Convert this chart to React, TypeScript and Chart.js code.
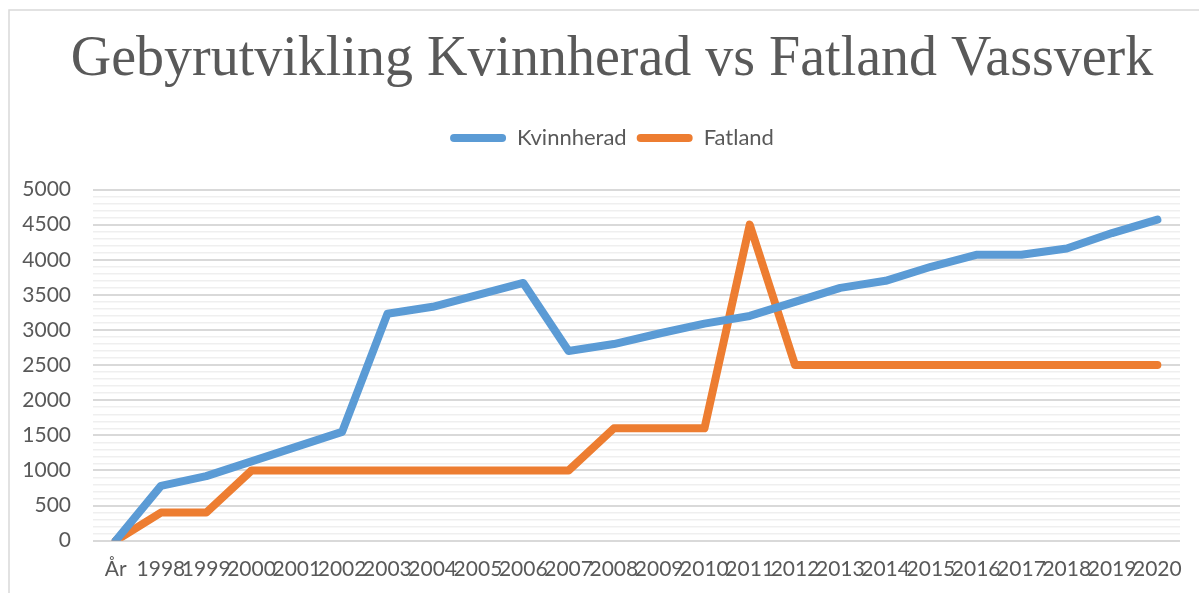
import React, { useEffect, useRef } from "react";
import { Chart, registerables } from "chart.js";

Chart.register(...registerables);

const categories = ["År", "1998", "1999", "2000", "2001", "2002", "2003", "2004", "2005", "2006", "2007", "2008", "2009", "2010", "2011", "2012", "2013", "2014", "2015", "2016", "2017", "2018", "2019", "2020"];
const kvinnherad = [0, 780, 920, 1130, 1340, 1550, 3230, 3330, 3500, 3670, 2700, 2800, 2950, 3090, 3200, 3400, 3600, 3700, 3900, 4070, 4070, 4160, 4380, 4570];
const fatland = [0, 400, 400, 1000, 1000, 1000, 1000, 1000, 1000, 1000, 1000, 1600, 1600, 1600, 4500, 2500, 2500, 2500, 2500, 2500, 2500, 2500, 2500, 2500];
const seriesNames = ["Kvinnherad", "Fatland"];
const seriesColors = ["#5B9BD5", "#ED7D31"];
const titleText = "Gebyrutvikling Kvinnherad vs Fatland Vassverk";
const yMin = 0;
const yMax = 5000;
const yMinorStep = 100;
const yMajorStep = 500;

const textColor = "#595959";

const frameBorder = {
  id: "frameBorder",
  beforeDraw(chart: any) {
    const ctx = chart.ctx;
    ctx.save();
    ctx.strokeStyle = "#d9d9d9";
    ctx.lineWidth = 1.5;
    ctx.strokeRect(9, 10, 1400, 900);
    ctx.restore();
  },
};

const legendSpacer = {
  id: "legendSpacer",
  beforeInit(chart: any) {
    const legend = chart.legend;
    if (!legend) return;
    const origFit = legend.fit;
    legend.fit = function () {
      origFit.call(this);
      this.height += 30.5;
    };
  },
  afterLayout(chart: any) {
    if (chart.titleBlock) chart.titleBlock.left = 44;
    if (chart.legend) chart.legend.left = 44;
  },
};

export default function App() {
  const ref = useRef<HTMLCanvasElement | null>(null);

  useEffect(() => {
    if (!ref.current) return;
    const chart = new Chart(ref.current, {
      type: "line",
      data: {
        labels: categories,
        datasets: [
          {
            label: seriesNames[0],
            data: kvinnherad,
            borderColor: seriesColors[0],
            backgroundColor: seriesColors[0],
            borderWidth: 8,
            pointRadius: 0,
            borderCapStyle: "round",
            borderJoinStyle: "round",
            tension: 0,
          },
          {
            label: seriesNames[1],
            data: fatland,
            borderColor: seriesColors[1],
            backgroundColor: seriesColors[1],
            borderWidth: 8,
            pointRadius: 0,
            borderCapStyle: "round",
            borderJoinStyle: "round",
            tension: 0,
          },
        ],
      },
      options: {
        responsive: false,
        animation: false,
        layout: { padding: { left: 0, right: 19, top: 0, bottom: 0 } },
        plugins: {
          title: {
            display: true,
            text: titleText,
            color: textColor,
            font: { family: "'Liberation Serif', serif", size: 56, weight: "normal" },
            padding: { top: 26.3, bottom: 23.5 },
          },
          legend: {
            display: true,
            position: "top",
            labels: {
              color: textColor,
              font: { family: "Lato", size: 22 },
              boxWidth: 56,
              boxHeight: 8,
              useBorderRadius: true,
              borderRadius: 4,
              padding: 10,
              generateLabels: (c: any) =>
                Chart.defaults.plugins.legend.labels.generateLabels(c).map((l: any, i: number) => ({
                  ...l,
                  lineWidth: 0,
                  fillStyle: seriesColors[i],
                  strokeStyle: seriesColors[i],
                })),
            },
          },
          tooltip: { enabled: false },
        },
        scales: {
          x: {
            offset: true,
            grid: { display: false, drawTicks: false },
            border: { display: false },
            ticks: {
              autoSkip: false,
              maxRotation: 0,
              minRotation: 0,
              color: textColor,
              font: { family: "Lato", size: 21 },
              padding: 16,
            },
            afterFit: (s: any) => {
              s.height = 52.3;
            },
          },
          y: {
            min: yMin,
            max: yMax,
            grid: {
              drawTicks: false,
              color: (ctx: any) => (ctx.tick && ctx.tick.value % yMajorStep === 0 ? "#d9d9d9" : "#efefef"),
              lineWidth: (ctx: any) => (ctx.tick && ctx.tick.value % yMajorStep === 0 ? 2 : 1.5),
            },
            border: { display: false },
            ticks: {
              stepSize: yMinorStep,
              autoSkip: false,
              color: textColor,
              font: { family: "Lato", size: 21 },
              padding: 22,
              callback: (v: any) => (Number(v) % yMajorStep === 0 ? String(v) : ""),
            },
            afterFit: (s: any) => {
              s.width = 93;
            },
          },
        },
      },
      plugins: [frameBorder, legendSpacer],
    });
    return () => chart.destroy();
  }, []);

  return (
    <div style={{ position: "absolute", left: 0, top: 0, width: 1199, height: 593, background: "#fff" }}>
      <canvas ref={ref} width={1199} height={593} style={{ display: "block" }} />
    </div>
  );
}
